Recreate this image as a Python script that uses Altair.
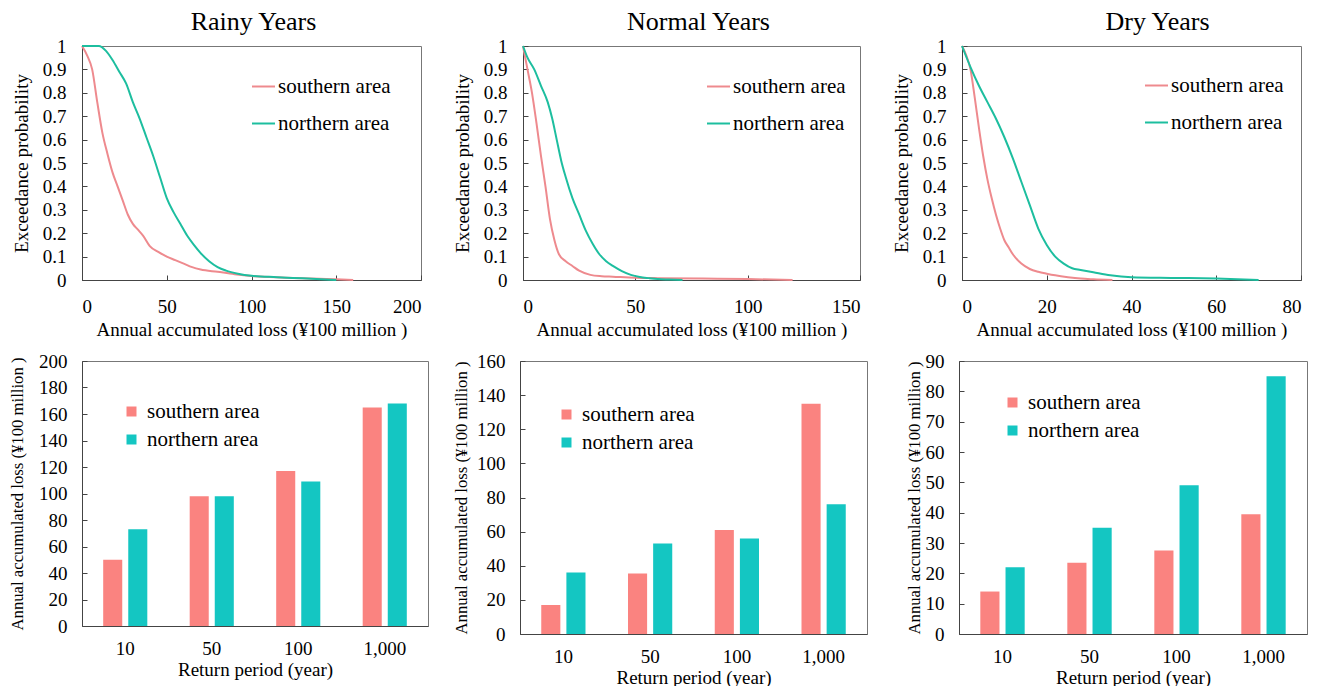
import altair as alt
import pandas as pd

FONT = "Liberation Serif"
areas = ["southern area", "northern area"]
periods = ["10", "50", "100", "1,000"]

# ---- exceedance curves (loss in ¥100 million, probability) ----
rainy_south_loss = [0, 3, 6, 9, 12, 15, 18, 21, 24, 27, 30, 33, 36, 40, 45, 50, 55, 60, 65, 70, 80, 90, 100, 120, 140, 150, 160]
rainy_south_prob = [1.0, 0.96, 0.9, 0.76, 0.63, 0.54, 0.46, 0.4, 0.34, 0.28, 0.24, 0.215, 0.19, 0.145, 0.12, 0.1, 0.085, 0.07, 0.055, 0.045, 0.035, 0.025, 0.017, 0.01, 0.005, 0.003, 0.0]
rainy_north_loss = [0, 5, 10, 14, 18, 22, 26, 30, 34, 38, 42, 46, 50, 54, 58, 62, 66, 70, 75, 80, 85, 92, 100, 115, 130, 150]
rainy_north_prob = [1.0, 1.0, 1.0, 0.98, 0.94, 0.89, 0.84, 0.76, 0.69, 0.61, 0.53, 0.44, 0.35, 0.29, 0.24, 0.19, 0.15, 0.115, 0.08, 0.055, 0.04, 0.027, 0.018, 0.012, 0.007, 0.0]

normal_south_loss = [0, 1, 2, 4, 6, 8, 10, 12, 14, 16, 19, 22, 25, 30, 35, 40, 50, 60, 80, 100, 120]
normal_south_prob = [1.0, 0.95, 0.9, 0.8, 0.67, 0.53, 0.4, 0.26, 0.17, 0.11, 0.08, 0.06, 0.04, 0.022, 0.016, 0.014, 0.01, 0.008, 0.006, 0.004, 0.0]
normal_north_loss = [0, 2, 5, 8, 11, 13, 15, 17, 19, 22, 25, 28, 31, 34, 37, 40, 44, 48, 52, 56, 60, 65, 71]
normal_north_prob = [1.0, 0.95, 0.9, 0.83, 0.76, 0.69, 0.6, 0.51, 0.44, 0.35, 0.28, 0.21, 0.155, 0.11, 0.08, 0.06, 0.038, 0.022, 0.013, 0.008, 0.004, 0.002, 0.0]

dry_south_loss = [0, 1, 2, 3, 4, 5, 6, 7, 8, 9, 10, 11, 12, 14, 16, 18, 20, 22, 25, 28, 31, 35.5]
dry_south_prob = [1.0, 0.96, 0.9, 0.78, 0.65, 0.53, 0.43, 0.35, 0.28, 0.22, 0.17, 0.14, 0.11, 0.07, 0.047, 0.035, 0.027, 0.02, 0.012, 0.006, 0.003, 0.0]
dry_north_loss = [0, 2, 4, 6, 8, 10, 12, 14, 16, 18, 20, 22, 24, 26, 28, 31, 35, 40, 50, 60, 70]
dry_north_prob = [1.0, 0.91, 0.83, 0.76, 0.69, 0.61, 0.52, 0.42, 0.32, 0.22, 0.15, 0.1, 0.07, 0.05, 0.043, 0.033, 0.02, 0.012, 0.009, 0.006, 0.0]

# ---- return-period losses (¥100 million) ----
rainy_south_bar = [50, 98, 117, 165]
rainy_north_bar = [73, 98, 109, 168]
normal_south_bar = [17, 35.5, 61, 135]
normal_north_bar = [36, 53, 56, 76]
dry_south_bar = [14, 23.5, 27.5, 39.5]
dry_north_bar = [22, 35, 49, 85]

LINE_COLORS = ["#EE8A8E", "#1DBE9F"]
BAR_COLORS = ["#FA8380", "#14C6C2"]

XTITLE = "Annual accumulated loss (\u00a5100 million )"
AX = dict(labelFont=FONT, titleFont=FONT, labelColor="black", titleColor="black",
          titleFontWeight="normal", labelFontSize=19)


def curve_df(sx, sy, nx, ny):
    rows = [{"area": areas[0], "loss": x, "prob": y} for x, y in zip(sx, sy)]
    rows += [{"area": areas[1], "loss": x, "prob": y} for x, y in zip(nx, ny)]
    return pd.DataFrame(rows)


def bar_df(s, n):
    rows = [{"area": areas[0], "period": p, "loss": v} for p, v in zip(periods, s)]
    rows += [{"area": areas[1], "period": p, "loss": v} for p, v in zip(periods, n)]
    return pd.DataFrame(rows)


def curve_panel(df, title, dx, xmax, xstep, width, height, lx, ly, ytp):
    xvals = list(range(0, xmax + 1, xstep))
    yvals = [round(i / 10, 1) for i in range(11)]
    return alt.Chart(df).mark_line(strokeWidth=2, interpolate="monotone").encode(
        x=alt.X("loss:Q", scale=alt.Scale(domain=[0, xmax], nice=False, zero=True),
                axis=alt.Axis(values=xvals, title=XTITLE, grid=True,
                              gridDash=[0, height - 5, 5, 2000],
                              labelPadding=17, titlePadding=4, titleFontSize=19, **AX)),
        y=alt.Y("prob:Q", scale=alt.Scale(domain=[0, 1], nice=False),
                axis=alt.Axis(values=yvals, format="~g", title="Exceedance probability",
                              grid=True, gridDash=[5, 3000],
                              labelPadding=16, titlePadding=ytp, titleFontSize=19, **AX)),
        color=alt.Color("area:N", scale=alt.Scale(domain=areas, range=LINE_COLORS),
                        legend=alt.Legend(orient="none", legendX=lx, legendY=ly, title=None,
                                          direction="vertical", symbolType="stroke",
                                          symbolSize=529, symbolStrokeWidth=2,
                                          labelOffset=2, rowPadding=14, padding=0,
                                          labelFont=FONT, labelColor="black",
                                          labelFontSize=21)),
    ).properties(width=width, height=height,
                 title=alt.TitleParams(title, dx=dx, fontSize=26, font=FONT,
                                       fontWeight="normal", color="black",
                                       baseline="alphabetic", offset=-19))


def bar_panel(df, ymax, ystep, width, height, lx, ly, ytp):
    yvals = list(range(0, ymax + 1, ystep))
    return alt.Chart(df).mark_bar().encode(
        x=alt.X("period:N", sort=periods,
                scale=alt.Scale(paddingInner=0.49, paddingOuter=0.245),
                axis=alt.Axis(title="Return period (year)", labelAngle=0, grid=False,
                              labelPadding=13, titlePadding=2, titleFontSize=19, **AX)),
        xOffset=alt.XOffset("area:N", sort=areas,
                            scale=alt.Scale(paddingInner=0.24, paddingOuter=0)),
        y=alt.Y("loss:Q", scale=alt.Scale(domain=[0, ymax], nice=False),
                axis=alt.Axis(values=yvals, title=XTITLE, grid=True, gridDash=[5, 3000],
                              labelPadding=15, titlePadding=ytp, titleFontSize=16.7, **AX)),
        color=alt.Color("area:N", sort=areas, scale=alt.Scale(domain=areas, range=BAR_COLORS),
                        legend=alt.Legend(orient="none", legendX=lx, legendY=ly, title=None,
                                          direction="vertical", symbolType="square",
                                          symbolSize=100, symbolStrokeWidth=0,
                                          symbolOpacity=1, labelOffset=5, rowPadding=6,
                                          padding=0, labelFont=FONT, labelColor="black",
                                          labelFontSize=21)),
    ).properties(width=width, height=height)


top_a = curve_panel(curve_df(rainy_south_loss, rainy_south_prob, rainy_north_loss, rainy_north_prob),
                    "Rainy Years", 2, 200, 50, 339, 234, 169, 28, 11)
top_b = curve_panel(curve_df(normal_south_loss, normal_south_prob, normal_north_loss, normal_north_prob),
                    "Normal Years", 7, 150, 50, 337, 234, 183, 28, 11)
top_c = curve_panel(curve_df(dry_south_loss, dry_south_prob, dry_north_loss, dry_north_prob),
                    "Dry Years", 26, 80, 20, 339, 234, 182, 27, 11)

bot_a = bar_panel(bar_df(rainy_south_bar, rainy_north_bar), 200, 20, 346, 265, 39, 40, 12)
bot_b = bar_panel(bar_df(normal_south_bar, normal_north_bar), 160, 20, 347, 273, 36, 43, 6)
bot_c = bar_panel(bar_df(dry_south_bar, dry_north_bar), 90, 10, 348, 273, 43, 31, 2)

RES = dict(color="independent", xOffset="independent")

top_row = alt.hconcat(top_a, top_b, top_c, spacing=102, bounds="flush").resolve_scale(**RES)
bot_row = alt.hconcat(bot_a, bot_b, bot_c, spacing=92, bounds="flush").resolve_scale(**RES)

chart = alt.vconcat(top_row, bot_row, spacing=11).resolve_scale(**RES).properties(
    padding={"left": 8, "top": 8, "right": 5, "bottom": 0},
    background="white",
).configure(font=FONT).configure_view(stroke="#777", strokeWidth=1).configure_axis(
    labelFont=FONT, titleFont=FONT, labelFontSize=19, labelColor="black", titleColor="black",
    titleFontWeight="normal", domainColor="#444", domainWidth=1, ticks=False, tickSize=0,
    gridColor="#444", gridOpacity=1, gridWidth=1,
).configure_legend(labelFont=FONT, labelColor="black")

chart.save("out.html", embed_options={"renderer": "svg", "actions": False})
